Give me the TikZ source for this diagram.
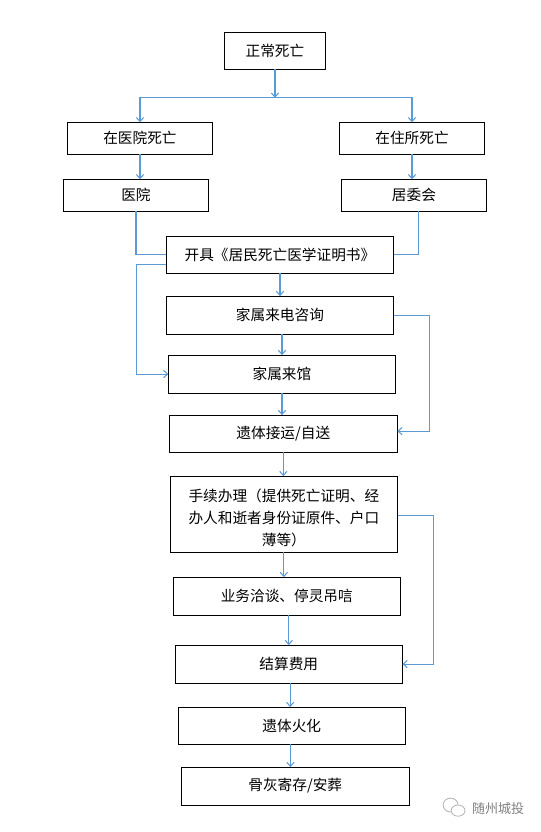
\documentclass[tikz,border=0pt]{standalone}
\usepackage{fontspec}
\setmainfont{Noto Sans CJK SC}
\usetikzlibrary{arrows.meta, positioning}

\begin{document}
\begin{tikzpicture}[node distance=18pt, >={Straight Barb[length=3pt,width=5.5pt]}]
        % Styles
        \tikzstyle{flowbox} = [draw=black, rectangle, align=center, minimum height=28.5pt, minimum width=170.5pt, inner sep=0pt, outer sep=0pt, line width=0.8pt, font=\fontsize{11pt}{16.5pt}\selectfont]
        \tikzstyle{sidebox} = [flowbox, minimum height=24pt, minimum width=108.75pt]
        \tikzstyle{link} = [draw={rgb,255:red,91;green,155;blue,213}, line width=0.8pt]
        \tikzstyle{logoline} = [draw=black!30, fill=white, line width=0.6pt]

        \useasboundingbox (-206.25pt,38.1pt) rectangle (199.5pt,-585.9pt);

        % Nodes
        \node[flowbox, minimum width=75.75pt, minimum height=27.4pt] (death) {正常死亡};
        \node[sidebox, below=39.9pt of death, xshift=-101.25pt] (hospdeath) {在医院死亡};
        \node[sidebox, below=39.9pt of death, xshift=102.75pt] (homedeath) {在住所死亡};
        \node[sidebox, below=18.75pt of hospdeath, xshift=-3pt] (hospital) {医院};
        \node[sidebox, below=18.75pt of homedeath, xshift=1.5pt] (committee) {居委会};
        \node[flowbox, minimum height=27.75pt, below=18.75pt of hospital, xshift=108pt] (cert) {开具《居民死亡医学证明书》};
        \node[flowbox, below=17.1pt of cert] (phone) {家属来电咨询};
        \node[flowbox, below=15.75pt of phone, xshift=1.5pt] (visit) {家属来馆};
        \node[flowbox, minimum height=28pt, minimum width=171pt, below=16.5pt of visit, xshift=1pt] (transport) {遗体接运/自送};
        \node[flowbox, minimum height=57.2pt, below=17.8pt of transport, xshift=0.4pt] (paperwork) {\rule{0pt}{15pt}手续办理（提供死亡证明、经\\办人和逝者身份证原件、户口\\薄等）};
        \node[flowbox, below=18.5pt of paperwork, xshift=2.2pt] (talks) {业务洽谈、停灵吊唁};
        \node[flowbox, below=22.5pt of talks, xshift=1.5pt] (fees) {结算费用};
        \node[flowbox, minimum height=27.75pt, below=18pt of fees, xshift=2.25pt] (cremation) {遗体火化};
        \node[flowbox, minimum width=171.2pt, below=17.25pt of cremation, xshift=2.6pt] (ashes) {骨灰寄存/安葬};

        % Watermark
        \node[text=black!50, font=\fontsize{9.75pt}{10pt}\selectfont, inner sep=0pt, right=46.8pt of ashes, yshift=-16.5pt] (brand) {随州城投};
        \draw[logoline] ([xshift=-35.6pt,yshift=2.25pt]brand.center) ellipse (5.6pt and 5.2pt);
        \draw[logoline] ([xshift=-30pt,yshift=-1.9pt]brand.center) ellipse (5.2pt and 4.2pt);

        % Paths
        \coordinate[below=21.5pt of death] (split);
        \draw[link, ->] (death) -- (split);
        \draw[link, ->] (split) -| (hospdeath);
        \draw[link, ->] (split) -| (homedeath);
        \draw[link, ->] (hospdeath) -- (hospdeath |- hospital.north);
        \draw[link, ->] (homedeath) -- (homedeath |- committee.north);
        \draw[link] (hospital) |- (cert);
        \draw[link] ([xshift=3.4pt]committee.south) |- (cert);
        \draw[link, ->] ([yshift=-7pt]cert.west) -- ++(-22.5pt,0) |- (visit);
        \draw[link, ->] (cert) -- (phone);
        \draw[link, ->] (visit |- phone.south) -- (visit);
        \draw[link, ->] (visit) -- (visit |- transport.north);
        \draw[link, ->] (transport) -- (transport |- paperwork.north);
        \draw[link, ->] (phone.east) -- ++(27pt,0) |- ([yshift=2pt]transport.east);
        \draw[link, ->] (paperwork.south) -- (paperwork.south |- talks.north);
        \draw[link, ->] ([yshift=-1pt]paperwork.east) -- ++(27pt,0) |- (fees);
        \draw[link, ->] (fees |- talks.south) -- (fees);
        \draw[link, ->] ([xshift=1pt]fees.south) -- ([xshift=1pt]fees.south |- cremation.north);
        \draw[link, ->] ([xshift=-1pt]cremation.south) -- ([xshift=-1pt]cremation.south |- ashes.north);
\end{tikzpicture}
\end{document}
